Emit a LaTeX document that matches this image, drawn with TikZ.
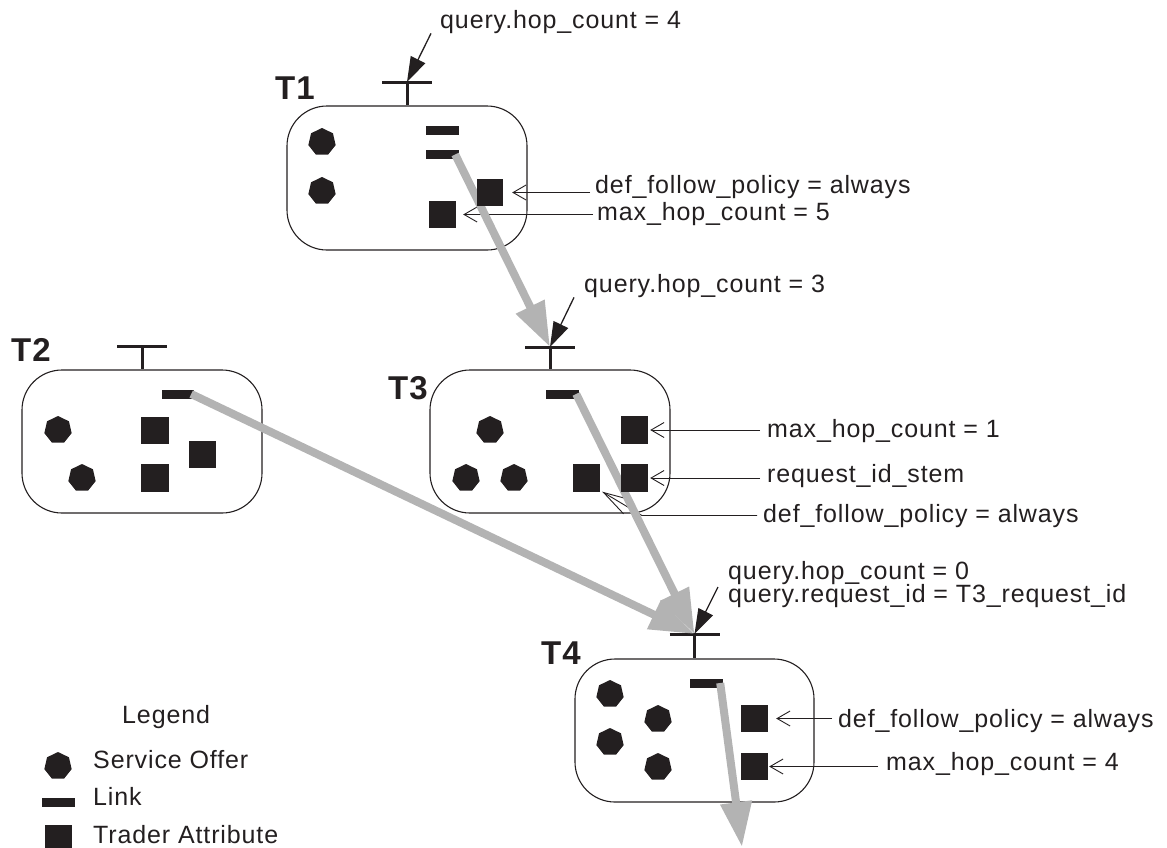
\documentclass[tikz,border=0pt]{standalone}
\usepackage{fontspec}
\setmainfont{Liberation Sans}[LetterSpace=3.5]
\usetikzlibrary{arrows.meta,shapes.geometric}
\definecolor{ink}{HTML}{231F20}
\definecolor{lk}{HTML}{B3B3B3}
\begin{document}
\begin{tikzpicture}[x=1pt,y=-1pt,
  trader/.style={draw=ink, line width=1.1pt, rounded corners=40pt, inner sep=0, minimum width=240pt, minimum height=143pt},
  offer/.style={regular polygon, regular polygon sides=7, fill=ink, inner sep=0, minimum size=28pt},
  linkbar/.style={fill=ink, inner sep=0, minimum width=33pt, minimum height=9pt},
  attr/.style={fill=ink, inner sep=0, minimum size=27pt},
  port/.style={draw=ink, line width=3pt},
  flow/.style={draw=lk, line width=8pt, -{Triangle[length=45pt,width=30pt]}},
  qarrow/.style={draw=ink, line width=1.3pt, -{Triangle[length=25pt,width=16pt]}},
  note/.style={draw=ink, line width=0.9pt, -{Straight Barb[length=13pt,width=15pt]}},
  lbl/.style={inner sep=0, anchor=base west, text=ink, font=\fontsize{25}{23}\selectfont},
  tname/.style={inner sep=0, text=ink, font=\bfseries\fontsize{33}{33}\selectfont}]
\useasboundingbox (0,0) rectangle (1167,847);

% trader boxes
\node[trader, minimum height=144pt] (t1) at (407,178) {};
\node[trader] (t2) at (142,441.5) {};
\node[trader] (t3) at (550,441.5) {};
\node[trader, minimum width=239pt] (t4) at (694.5,730.5) {};

\node[tname] (n1) at (295,88) {T1};
\node[tname] (n2) at (31,350) {T2};
\node[tname] (n3) at (408,388) {T3};
\node[tname] (n4) at (561,653) {T4};

% ports
\coordinate (p1) at (407,82);
\coordinate (p2) at (142,346);
\coordinate (p3) at (550,347);
\coordinate (p4) at (694.5,634);
\foreach \p/\t in {p1/t1,p2/t2,p3/t3,p4/t4}{
  \draw[port] (\p) -- (\t.north);
  \draw[port] ([xshift=-25pt]\p) -- ([xshift=25pt]\p);
}

% labels
\node[lbl] (q1) at (440,28) {query.hop\_count = 4};
\node[lbl] (a11) at (595,193) {def\_follow\_policy = always};
\node[lbl] (a12) at (597,220) {max\_hop\_count = 5};
\node[lbl] (q3) at (584,292) {query.hop\_count = 3};
\node[lbl] (a31) at (767,437) {max\_hop\_count = 1};
\node[lbl] (a32) at (767,482) {request\_id\_stem};
\node[lbl] (a33) at (763,522) {def\_follow\_policy = always};
\node[lbl, align=left] (q4) at (728,602) {query.hop\_count = 0\\[-1.5pt]query.request\_id = T3\_request\_id};
\node[lbl] (a41) at (838,727) {def\_follow\_policy = always};
\node[lbl] (a42) at (886,770) {max\_hop\_count = 4};
\coordinate (q4s) at (718,587);

% trader attributes
\node[attr, minimum width=26pt] (s11) at (490,192.5) {};
\node[attr] (s12) at (442.5,214.5) {};
\node[attr] (s21) at (155,430.5) {};
\node[attr] (s22) at (155,478) {};
\node[attr] (s23) at (202.5,454.5) {};
\node[attr] (s31) at (634.5,430) {};
\node[attr] (s32) at (634.5,478) {};
\node[attr] (s33) at (586.5,478) {};
\node[attr] (s41) at (754.5,718.5) {};
\node[attr] (s42) at (754.5,766.5) {};

% annotation arrows
\draw[qarrow] ([xshift=-9pt]q1.south west) -- (p1);
\draw[qarrow] ([xshift=-10pt]q3.south west) -- (p3);
\draw[qarrow] (q4s) -- (p4);
\draw[note] ([xshift=-5pt]a11.west |- s11.east) -- ([xshift=9pt]s11.east);
\draw[note] ([xshift=-4pt]a12.west |- s12.east) -- ([xshift=7pt]s12.east);
\draw[note] ([xshift=-7pt]a31.west |- s31.east) -- ([xshift=2pt]s31.east);
\draw[note] ([xshift=-7pt]a32.west |- s32.east) -- ([xshift=2pt]s32.east);
\draw[draw=ink, line width=0.9pt, -{Straight Barb[length=28pt,width=16pt]}]
  ([xshift=-6pt]a33.west) -- ++(-115,0) -- ([xshift=2pt]s33.south east);
\draw[note] ([xshift=-6pt]a41.west |- s41.east) -- ([xshift=8pt]s41.east);
\draw[note] ([xshift=-8pt]a42.west |- s42.east) -- ([xshift=1pt]s42.east);

% links
\node[linkbar] (l11) at (442.5,130.5) {};
\node[linkbar] (l12) at (442.5,154.5) {};
\node[linkbar, minimum width=32pt] (l2) at (178,394) {};
\node[linkbar] (l3) at (562.5,394) {};
\node[linkbar] (l4) at (706.5,683) {};

% federation flow arrows
\coordinate (out) at (742,847);
\draw[flow] ([xshift=-4pt]l12.east) -- (p3);
\draw[flow] ([xshift=-3pt]l3.east) -- (p4);
\draw[flow] ([xshift=-3pt]l2.east) -- (p4);
\draw[flow] ([xshift=-3pt]l4.east) -- (out);

% redraw attributes on top
\foreach \s in {s11,s12,s21,s22,s23,s31,s32,s33,s41,s42}{
  \fill[ink] (\s.south west) rectangle (\s.north east);
}

% service offers
\node[offer] (o11) at (322,142) {};
\node[offer] (o12) at (322,191) {};
\node[offer] (o21) at (58,430) {};
\node[offer] (o22) at (82,478) {};
\node[offer] (o31) at (490,430) {};
\node[offer] (o32) at (466,478) {};
\node[offer] (o33) at (514,478) {};
\node[offer] (o41) at (610,694) {};
\node[offer] (o42) at (658,719) {};
\node[offer] (o43) at (610,742) {};
\node[offer] (o44) at (658,767) {};

% legend
\node[lbl] (lg) at (122,723) {Legend};
\node[offer] (lo) at (58,766) {};
\node[lbl] (lt1) at (93,768) {Service Offer};
\node[linkbar] (ll) at (58.5,802.5) {};
\node[lbl] (lt2) at (93,805) {Link};
\node[attr] (la) at (58.5,838.5) {};
\node[lbl] (lt3) at (93,843) {Trader Attribute};
\end{tikzpicture}
\end{document}
